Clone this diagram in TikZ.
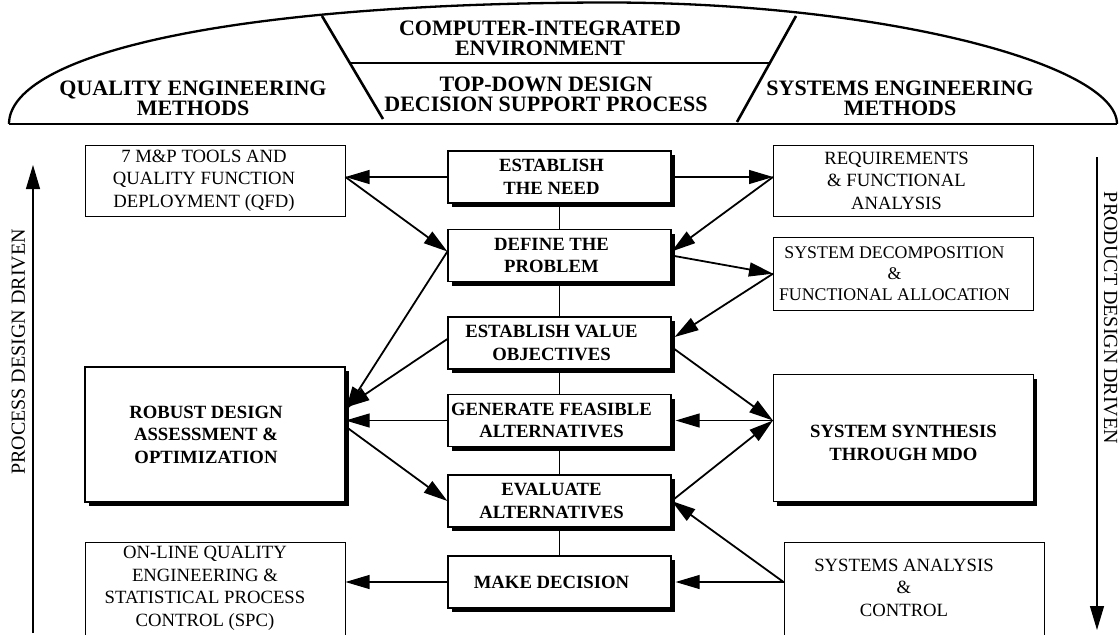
\documentclass[tikz,border=0pt]{standalone}
\usepackage{fontspec}
\setmainfont{Liberation Serif}
\usetikzlibrary{arrows.meta,shadows}

\tikzset{
  hdr/.style={font=\fontsize{22}{20}\selectfont\bfseries, align=center, inner sep=0pt},
  side/.style={font=\fontsize{20}{24}\selectfont, inner sep=0pt},
  boldtxt/.style={font=\fontsize{18.7}{22.5}\selectfont\bfseries, align=center, inner sep=0pt},
  steptxt/.style={boldtxt, xshift=-8pt},
  plaintxt/.style={font=\fontsize{18.7}{22.5}\selectfont, align=center, inner sep=0pt},
  blackshadow/.style={drop shadow={shadow xshift=3.5pt, shadow yshift=-4pt, fill=black, opacity=1}},
  stepbox/.style={draw, line width=1.2pt, fill=white, minimum width=223pt, minimum height=52pt, blackshadow},
  toolbox/.style={draw, line width=1pt, fill=white, minimum width=260pt},
  bigbox/.style={toolbox, line width=1.2pt, blackshadow},
  link/.style={-{Triangle[length=24pt,width=14pt]}, line width=1.1pt},
  slant/.style={link, line width=1.8pt},
}

\begin{document}
\begin{tikzpicture}[x=1pt, y=1pt]
  \useasboundingbox (0,0) rectangle (1120,-635);
  \clip (0,0) rectangle (1120,-635);

  % header band
  \draw[line width=2.3pt] (9,-124) .. controls (9,-60) and (200,-4) .. (600,-2.5)
    .. controls (880,-1.5) and (1117,-64) .. (1117,-124);
  \draw[line width=2pt] (9,-124) -- (1117,-124);
  \draw[line width=2.6pt] (322,-16) -- (383,-119);
  \draw[line width=2.6pt] (796,-16) -- (737,-122);
  \draw[line width=2pt] (350,-63) -- (770,-63);
  \node[hdr] (qem) at (193,-98) {QUALITY ENGINEERING\\METHODS};
  \node[hdr] (cie) at (540,-38) {COMPUTER-INTEGRATED\\ENVIRONMENT};
  \node[hdr] (tdd) at (546,-94) {TOP-DOWN DESIGN\\DECISION SUPPORT PROCESS};
  \node[hdr] (sem) at (900,-98) {SYSTEMS ENGINEERING\\METHODS};

  % decision support steps
  \node[stepbox, label={[steptxt]center:ESTABLISH\\THE NEED}] (need) at (559.5,-177) {};
  \node[stepbox, label={[steptxt]center:DEFINE THE\\PROBLEM}] (define) at (559.5,-255.5) {};
  \node[stepbox, label={[steptxt]center:ESTABLISH VALUE\\OBJECTIVES}] (value) at (559.5,-343) {};
  \node[stepbox, label={[steptxt]center:GENERATE FEASIBLE\\ALTERNATIVES}] (generate) at (559.5,-420.5) {};
  \node[stepbox, label={[steptxt]center:EVALUATE\\ALTERNATIVES}] (evaluate) at (559.5,-501) {};
  \node[stepbox, label={[steptxt]center:MAKE DECISION}] (decision) at (559.5,-582) {};

  % quality engineering side
  \node[toolbox, minimum height=71pt,
    label={[plaintxt, xshift=-11pt]center:7 M\&P TOOLS AND\\QUALITY FUNCTION\\DEPLOYMENT (QFD)}] (qfd) at (215,-180.5) {};
  \node[bigbox, minimum height=135pt,
    label={[boldtxt, xshift=-9pt]center:ROBUST DESIGN\\ASSESSMENT \&\\OPTIMIZATION}] (robust) at (215,-434.5) {};
  \node[toolbox, minimum height=118pt,
    label={[plaintxt, xshift=-10pt, yshift=12.5pt]center:ON-LINE QUALITY\\ENGINEERING \&\\STATISTICAL PROCESS\\CONTROL (SPC)}] (spc) at (215,-601) {};

  % systems engineering side
  \node[toolbox, minimum height=71pt,
    label={[plaintxt, xshift=-7pt]center:REQUIREMENTS\\\& FUNCTIONAL\\ANALYSIS}] (req) at (903.5,-180.5) {};
  \node[toolbox, minimum height=73pt,
    label={[plaintxt, font=\fontsize{17.8}{21.2}\selectfont, xshift=-9pt]center:SYSTEM DECOMPOSITION\\\&\\FUNCTIONAL ALLOCATION}] (decomp) at (903.5,-273.7) {};
  \node[bigbox, minimum height=127pt,
    label={[boldtxt, yshift=-4.5pt]center:SYSTEM SYNTHESIS\\THROUGH MDO}] (synth) at (903.5,-438.3) {};
  \node[toolbox, minimum height=118pt,
    label={[plaintxt, xshift=-10pt, yshift=13.5pt]center:SYSTEMS ANALYSIS\\\&\\CONTROL}] (analysis) at (914,-601) {};

  % driver arrows
  \node[side, rotate=90] (process) at (18.5,-352) {PROCESS DESIGN DRIVEN};
  \node[side, rotate=-90] (product) at (1110.5,-318) {PRODUCT DESIGN DRIVEN};
  \coordinate (lbot) at (33,-633);
  \coordinate (ltop) at (33,-165);
  \coordinate (rtop) at (1097,-157);
  \coordinate (rbot) at (1097,-630);
  \draw[link, line width=1.2pt] (lbot) -- (ltop);
  \draw[link, line width=1.2pt] (rtop) -- (rbot);

  % step chain
  \draw[line width=1.1pt] (need) -- (define) -- (value) -- (generate) -- (evaluate) -- (decision);

  % left links
  \coordinate (qfdin) at (need.west -| qfd.east);
  \draw[link] (need.west) -- (qfdin);
  \draw[slant] (qfdin) -- ([yshift=4pt]define.west);
  \draw[slant] ([yshift=4pt]define.west) -- ([yshift=24pt]robust.east);
  \draw[slant] ([yshift=4pt]value.west) -- ([yshift=27pt]robust.east);
  \draw[link] (generate.west) -- (generate.west -| robust.east);
  \draw[slant] ([yshift=8pt]robust.east) -- (evaluate.west);
  \draw[link] (decision.west) -- (decision.west -| spc.east);

  % right links
  \coordinate (reqin) at (need.east -| req.west);
  \coordinate (synthin) at (generate.east -| synth.west);
  \coordinate (anaout) at (decision.east -| analysis.west);
  \draw[link] (need.east) -- (reqin);
  \draw[slant] (reqin) -- ([yshift=4pt]define.east);
  \draw[slant] (define.east) -- (decomp.west);
  \draw[slant] (decomp.west) -- ([xshift=3pt, yshift=6pt]value.east);
  \draw[slant] ([yshift=-4pt]value.east) -- (synthin);
  \draw[link] (synthin) -- ([xshift=4pt]generate.east);
  \draw[slant] (evaluate.east) -- (synthin);
  \draw[slant] (anaout) -- (evaluate.east);
  \draw[link] (anaout) -- ([xshift=4pt]decision.east);
\end{tikzpicture}
\end{document}
